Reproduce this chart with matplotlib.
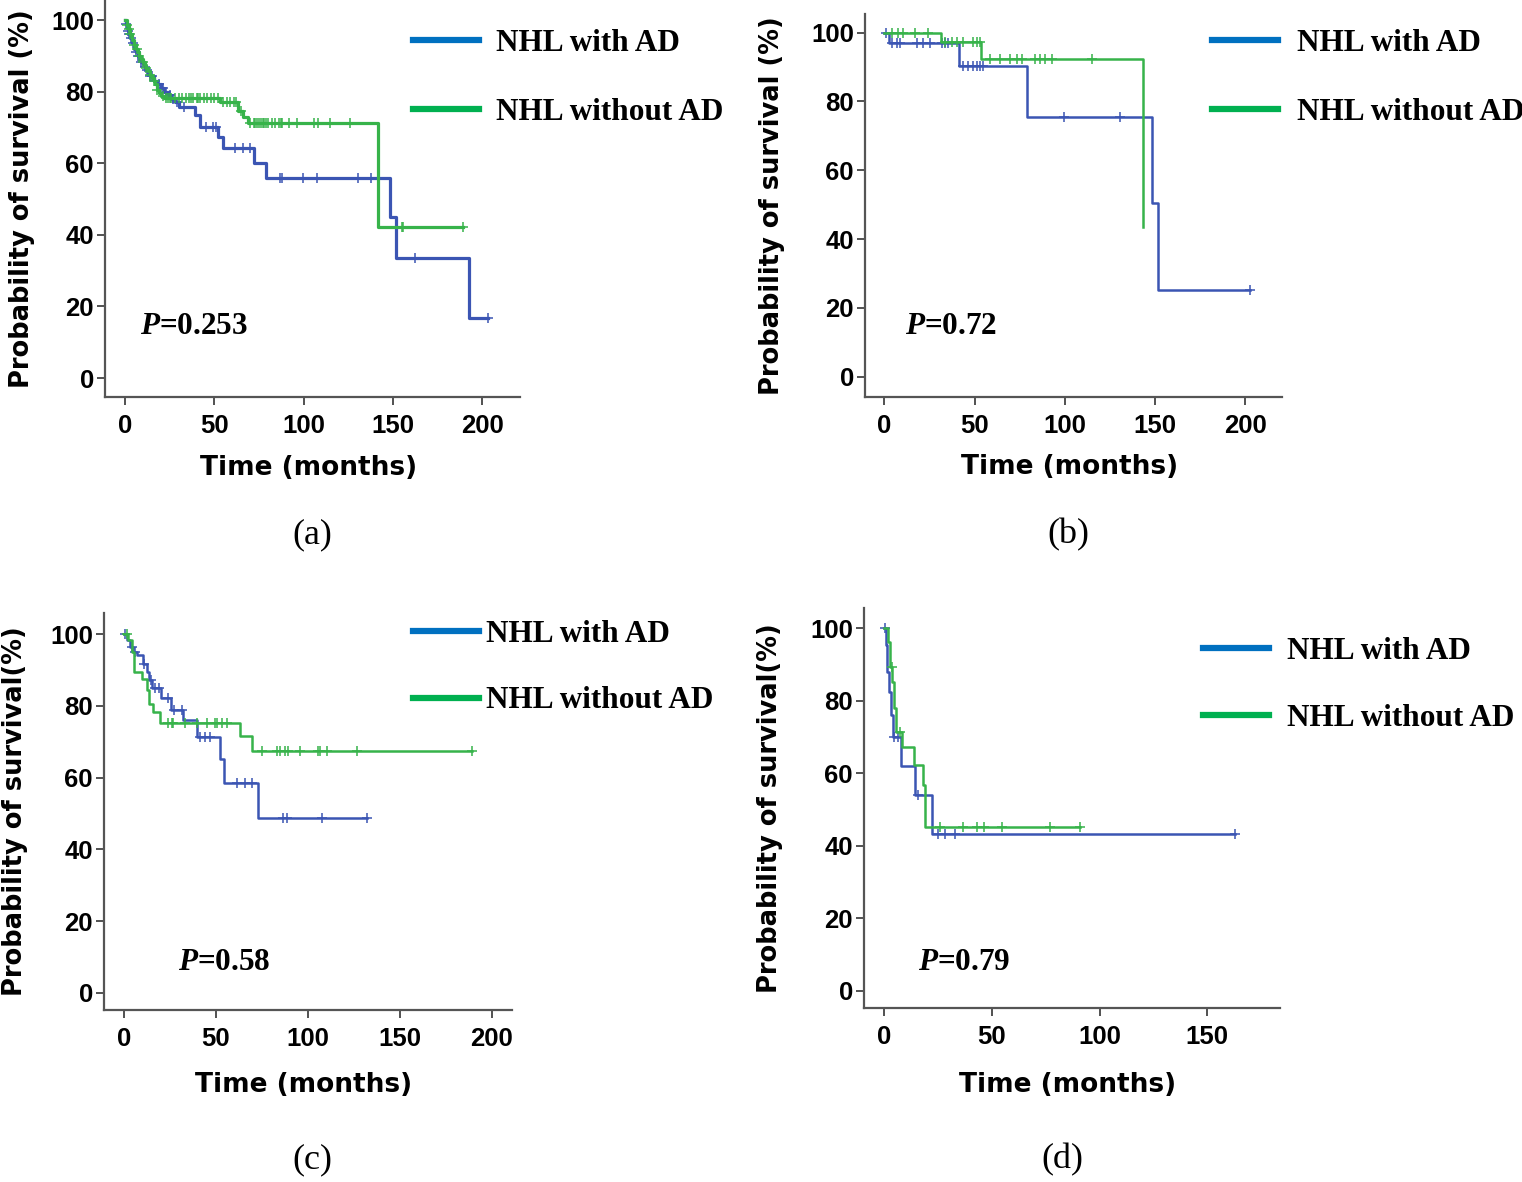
import numpy as np
import matplotlib
matplotlib.use('Agg')
import matplotlib.pyplot as plt
from matplotlib.lines import Line2D

plt.rcParams['mathtext.fontset'] = 'custom'
plt.rcParams['mathtext.it'] = 'Liberation Serif:italic:bold'
plt.rcParams['mathtext.rm'] = 'Liberation Serif:bold'
plt.rcParams['mathtext.bf'] = 'Liberation Serif:bold'

W, H = 1522, 1182

# ---- data (months, % survival) ----
# (a)
a_with_t = [0, 0.5, 1, 1.5, 2, 3, 4, 5, 6, 7, 8, 9, 10, 11, 12, 13, 14, 16, 18, 20, 22, 24, 26, 28, 30,
            39, 42, 52, 55, 72, 79, 148, 151.5, 192.7]
a_with_s = [100, 99, 98, 97, 96, 95, 93.5, 92, 91, 90, 89.2, 88.4, 87.6, 86.8, 86, 85.2, 84.4, 83, 82, 81,
            80, 79, 78, 77, 75.8, 73.5, 70.2, 67.4, 64.2, 60.2, 56, 44.9, 33.6, 16.7]
a_with_end = 203.3
a_with_cens = [0.5, 1.5, 2.5, 3.5, 4.5, 6, 7.5, 9, 11, 12.5, 14, 15, 17, 19, 21, 23, 25, 27, 29, 33,
               45.3, 49, 51, 61.6, 65.8, 70, 86.7, 88, 99.4, 107.3, 130.6, 137.4, 162.3, 203.3]
a_wo_t = [0, 1, 2, 3, 4, 5, 6, 7, 8, 9, 10, 11, 12, 13, 14, 15, 16, 17, 18, 19, 20, 22, 53, 63.4, 66, 69, 141.7]
a_wo_s = [100, 98.5, 97.5, 96, 94.5, 93, 92, 91, 90, 89, 88.4, 87.5, 86.5, 85.7, 84.7, 83.8, 83, 82, 80.5,
          79.5, 78.8, 78.3, 77, 74.7, 72.9, 71.2, 42.3]
a_wo_end = 189.3
a_wo_cens = [1, 2, 3, 5, 6.5, 8, 10, 12, 14, 16, 18, 21, 23, 24, 25, 26, 28, 30, 32, 34, 36, 37, 38, 40, 41,
             42, 44, 46, 48, 50, 52, 55, 57, 59, 61, 62, 65, 70, 72, 73, 74, 75, 76, 77, 78, 79, 80, 82, 84,
             86, 87, 88, 92, 96, 106, 108, 114.7, 125.9, 154.8, 155.7, 189.3]

# (b)
b_with_t = [0, 2.8, 41.4, 78.9, 148.2, 151.6]
b_with_s = [100, 96.9, 90.4, 75.4, 50.4, 25.2]
b_with_end = 202.8
b_with_cens = [1, 4.1, 6.8, 8.7, 17.9, 21.6, 25.3, 31.8, 33.6, 35.5, 43.8, 46.6, 49.4, 51.2, 53, 54.9,
               99.6, 130.7, 202.8]
b_wo_t = [0, 31.4, 53.4, 143.3]
b_wo_s = [100, 97.2, 92.2, 43.4]
b_wo_end = 143.3
b_wo_cens = [4.1, 7.8, 10.5, 17, 24.4, 33.6, 37.3, 40.1, 43.8, 49.4, 51.2, 53, 58.6, 64.1, 69.7, 73.4,
             76.2, 83.5, 86.3, 89.1, 92.8, 115.3]

# (c)
c_with_t = [0, 1.5, 3.3, 5.1, 6.9, 10.5, 12.3, 13.8, 15.1, 20.1, 25.6, 32.3, 39.5, 52.2, 54.4, 73.1]
c_with_s = [100, 98.3, 96.5, 95.1, 94.1, 91.8, 89.5, 87.2, 85.1, 82.1, 78.8, 76.0, 71.4, 65.3, 58.6, 48.8]
c_with_end = 132
c_with_cens = [0.5, 4.2, 6, 11, 14.5, 17, 19, 24, 27, 31.5, 41.3, 44.1, 46.8, 61.3, 65.8, 69.4,
               86.7, 88.5, 107.5, 132]
c_wo_t = [0, 2.4, 4.2, 5.6, 9.6, 12.3, 13.8, 16.0, 19.6, 63.1, 69.4]
c_wo_s = [100, 98.3, 95.0, 89.5, 87.6, 84.4, 80.4, 78.3, 75.1, 71.6, 67.5]
c_wo_end = 189.1
c_wo_cens = [1.5, 24.1, 25.9, 26.8, 33.2, 39.5, 45, 49.5, 50.4, 53.1, 55.8, 74.9, 83, 84.9, 87.6, 89.4,
             95.7, 105.7, 106.6, 110.2, 126.6, 189.1]

# (d)
d_with_t = [0, 0.9, 1.5, 2.5, 3.1, 4.3, 7.7, 14.4, 22.1]
d_with_s = [100, 95.4, 88, 82.5, 76.1, 70.1, 61.9, 54.0, 43.2]
d_with_end = 162.8
d_with_cens = [0.5, 4.8, 6.6, 15.9, 25.2, 28.3, 32.9, 162.8]
d_wo_t = [0, 2.0, 2.8, 3.9, 4.6, 5.6, 8.2, 13.9, 18.2, 19.0]
d_wo_s = [100, 96.3, 89.4, 85.3, 77.9, 71.5, 67.4, 62.3, 56.8, 45.3]
d_wo_end = 90.9
d_wo_cens = [3.6, 7.4, 26, 36.8, 43, 46.4, 54.6, 77, 90.9]

labels = ['NHL with AD', 'NHL without AD']
p_values = ['0.253', '0.72', '0.58', '0.79']
panel_tags = ['(a)', '(b)', '(c)', '(d)']
ylabels = ['Probability of survival (%)', 'Probability of survival (%)',
           'Probability of survival(%)', 'Probability of survival(%)']

blue, green = '#3B55B3', '#37B34A'
leg_blue, leg_green = '#0070C0', '#00B050'


def px(x, y):
    return x / W, 1 - y / H


def km(ax, t, s, t_end, cens, color, lw):
    ax.step(list(t) + [t_end], list(s) + [s[-1]], where='post', color=color, lw=lw)
    idx = np.searchsorted(t, cens, side='right') - 1
    ax.plot(cens, np.array(s)[idx], ls='none', marker='+', color=color, ms=7, mew=1.1)


fig = plt.figure(figsize=(W / 100, H / 100), dpi=100)

# pixel boxes (left, top, right, bottom), limits, ticks
panels = [
    dict(box=(105, 0, 520, 397), xlim=(-11.2, 221), ylim=(-5.3, 105.6), xt=[0, 50, 100, 150, 200],
         curves=[(a_with_t, a_with_s, a_with_end, a_with_cens), (a_wo_t, a_wo_s, a_wo_end, a_wo_cens)],
         lw=2.3, ylab_x=22, xlab_y=455, leg=(413, 29), pad=0.55, ls=1.27, ptxt=(140, 327), tag=(312, 535)),
    dict(box=(865, 14, 1282, 397), xlim=(-10.7, 220.4), ylim=(-5.9, 105.4), xt=[0, 50, 100, 150, 200],
         curves=[(b_with_t, b_with_s, b_with_end, b_with_cens), (b_wo_t, b_wo_s, b_wo_end, b_wo_cens)],
         lw=1.8, ylab_x=772, xlab_y=454, leg=(1212, 29), pad=0.62, ls=1.27, ptxt=(905, 327), tag=(1068, 535)),
    dict(box=(104, 613, 512, 1010), xlim=(-10.9, 211), ylim=(-4.8, 105.9), xt=[0, 50, 100, 150, 200],
         curves=[(c_with_t, c_with_s, c_with_end, c_with_cens), (c_wo_t, c_wo_s, c_wo_end, c_wo_cens)],
         lw=1.8, ylab_x=15, xlab_y=1072, leg=(413, 620), pad=0.25, ls=1.2, ptxt=(178, 962), tag=(312, 1160)),
    dict(box=(864, 608, 1280, 1008), xlim=(-9.3, 183.7), ylim=(-4.7, 105.6), xt=[0, 50, 100, 150],
         curves=[(d_with_t, d_with_s, d_with_end, d_with_cens), (d_wo_t, d_wo_s, d_wo_end, d_wo_cens)],
         lw=1.8, ylab_x=770, xlab_y=1072, leg=(1203, 637), pad=0.58, ls=1.22, ptxt=(918, 962), tag=(1062, 1160)),
]

for i, p in enumerate(panels):
    l, t, r, b = p['box']
    ax = fig.add_axes([l / W, 1 - b / H, (r - l) / W, (b - t) / H])
    for (tt, ss, te, cc), col in zip(p['curves'], [blue, green]):
        km(ax, tt, ss, te, cc, col, p['lw'])
    ax.set_xlim(*p['xlim'])
    ax.set_ylim(*p['ylim'])
    ax.set_xticks(p['xt'])
    ax.set_yticks([0, 20, 40, 60, 80, 100])
    for sp in ['top', 'right']:
        ax.spines[sp].set_visible(False)
    for sp in ['left', 'bottom']:
        ax.spines[sp].set_color('#555555')
        ax.spines[sp].set_linewidth(1.6)
    ax.tick_params(direction='out', length=6, width=1.2, color='#333333')
    ax.tick_params(axis='x', pad=6)
    ax.tick_params(axis='y', pad=2)
    for lab in ax.get_xticklabels() + ax.get_yticklabels():
        lab.set_fontfamily('Liberation Sans')
        lab.set_fontweight('bold')
        lab.set_fontsize(18.5)

    ax.set_ylabel(ylabels[i], fontfamily='DejaVu Sans', fontweight='bold', fontsize=18.5)
    ax.yaxis.set_label_coords((p['ylab_x'] - l) / (r - l), 0.5)
    ax.yaxis.label.set_va('center')
    ax.set_xlabel('Time (months)', fontfamily='DejaVu Sans', fontweight='bold', fontsize=19)
    ax.xaxis.set_label_coords(0.49, -(p['xlab_y'] - b) / (b - t))

    handles = [Line2D([], [], color=leg_blue, lw=4.5), Line2D([], [], color=leg_green, lw=4.5)]
    ax.legend(handles, labels, loc='upper left', bbox_to_anchor=px(*p['leg']),
              bbox_transform=fig.transFigure, frameon=False, borderpad=0, borderaxespad=0,
              handlelength=2.1, handletextpad=p['pad'], labelspacing=p['ls'],
              prop=dict(family='Liberation Serif', weight='bold', size=22.5))

    fig.text(*px(*p['ptxt']), r'$\mathit{P}$=' + p_values[i], fontfamily='Liberation Serif',
             fontweight='bold', fontsize=22.5, ha='left', va='center')
    fig.text(*px(*p['tag']), panel_tags[i], fontfamily='Liberation Serif', fontsize=26,
             ha='center', va='center')

fig.savefig('out.png', dpi=100)
